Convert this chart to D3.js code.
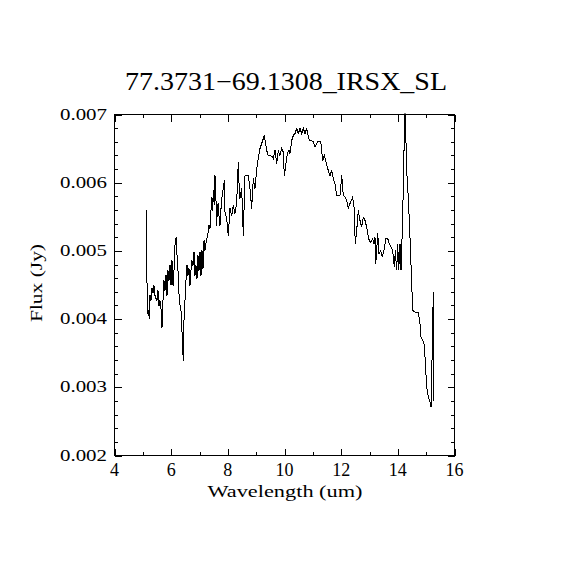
<!DOCTYPE html>
<html><head><meta charset="utf-8">
<script src="https://cdn.jsdelivr.net/npm/d3@7"></script>
<style>body{margin:0;background:#fff} svg{display:block}</style>
</head><body>
<svg id="c" width="570" height="570"></svg>
<script>
const wavelength = [5.122,5.129,5.136,5.154,5.165,5.189,5.228,5.253,5.288,5.324,5.359,5.394,5.429,5.465,5.500,5.535,5.571,5.606,5.641,5.676,
5.712,5.747,5.782,5.818,5.853,5.888,5.924,5.959,5.994,6.029,6.065,6.100,6.135,6.171,6.206,6.241,6.287,6.347,6.382,6.428,
6.453,6.488,6.524,6.559,6.594,6.629,6.665,6.700,6.735,6.771,6.806,6.841,6.876,6.912,6.947,6.982,7.018,7.053,7.088,7.124,
7.159,7.194,7.229,7.282,7.318,7.335,7.371,7.406,7.431,7.459,7.487,7.519,7.547,7.582,7.607,7.635,7.664,7.688,7.724,7.776,
7.840,7.875,7.900,7.960,8.016,8.076,8.136,8.193,8.253,8.313,8.369,8.405,8.429,8.489,8.546,8.571,8.606,8.722,8.782,8.842,
8.899,8.959,9.019,9.075,9.135,9.206,9.287,9.372,9.428,9.548,9.605,9.665,9.725,9.781,9.841,9.901,9.958,9.993,10.053,10.099,
10.159,10.194,10.254,10.311,10.371,10.431,10.487,10.547,10.607,10.664,10.724,10.784,10.875,11.016,11.076,11.136,11.193,11.278,11.313,11.348,
11.405,11.465,11.546,11.606,11.666,11.722,11.782,11.843,11.959,12.019,12.075,12.135,12.195,12.252,12.312,12.407,12.453,12.499,12.548,12.605,
12.665,12.725,12.781,12.841,12.901,12.958,12.993,13.042,13.113,13.159,13.194,13.219,13.254,13.290,13.335,13.395,13.452,13.512,13.582,13.642,
13.699,13.759,13.819,13.875,13.911,13.960,13.995,14.031,14.077,14.112,14.158,14.207,14.228,14.253,14.278,14.313,14.369,14.429,14.489,14.525,
14.606,14.722,14.782,14.818,14.878,14.924,14.959,15.019,15.075,15.135,15.171,15.206,15.231,15.252,15.276];
const flux = [0.005607,0.005006,0.004713,0.004419,0.004082,0.004126,0.004009,0.004346,0.004273,0.004449,0.004390,0.004493,0.004346,0.004302,0.004273,0.004419,0.004199,0.004273,0.004155,0.003877,
0.004273,0.004566,0.004419,0.004639,0.004346,0.004713,0.004566,0.004786,0.004493,0.004859,0.004493,0.004713,0.005079,0.005196,0.004933,0.004713,0.004273,0.004126,0.003818,0.003393,
0.003979,0.004273,0.004566,0.004786,0.004639,0.004742,0.004493,0.004713,0.004859,0.004786,0.004977,0.004639,0.004786,0.004595,0.004933,0.004713,0.004977,0.004639,0.005006,0.004742,
0.005152,0.005006,0.005108,0.005226,0.005299,0.005372,0.005328,0.005592,0.005783,0.005592,0.005886,0.005666,0.006106,0.005739,0.005372,0.005666,0.005695,0.005519,0.005372,0.005739,
0.005915,0.006032,0.005567,0.005475,0.005226,0.005622,0.005519,0.005666,0.005548,0.005714,0.006301,0.005886,0.005768,0.005915,0.005226,0.005592,0.006106,0.006106,0.005915,0.005622,
0.006062,0.005915,0.006208,0.006355,0.006501,0.006589,0.006692,0.006472,0.006399,0.006389,0.006355,0.006472,0.006282,0.006472,0.006399,0.006501,0.006447,0.006106,0.006282,0.006428,
0.006472,0.006428,0.006619,0.006692,0.006721,0.006795,0.006721,0.006795,0.006721,0.006795,0.006721,0.006795,0.006619,0.006608,0.006521,0.006575,0.006608,0.006608,0.006472,0.006326,
0.006399,0.006301,0.006179,0.006106,0.006179,0.006062,0.005988,0.005812,0.005812,0.006106,0.005812,0.005787,0.005739,0.005622,0.005695,0.005787,0.005641,0.005104,0.005299,0.005592,
0.005446,0.005347,0.005494,0.005446,0.005347,0.005201,0.005152,0.005128,0.005182,0.005104,0.005201,0.004811,0.005006,0.005255,0.004962,0.005006,0.004908,0.005006,0.005182,0.005182,
0.005104,0.005054,0.005006,0.004761,0.005006,0.004713,0.005104,0.004713,0.005104,0.004713,0.005299,0.006179,0.006721,0.007020,0.006765,0.006179,0.005787,0.005201,0.004518,0.004126,
0.004101,0.004101,0.003931,0.003735,0.003686,0.003638,0.003441,0.003001,0.002855,0.002781,0.002708,0.003393,0.003931,0.004394,0.002806];

const xTickValues = [4, 6, 8, 10, 12, 14, 16];
const xTickLabels = ["4", "6", "8", "10", "12", "14", "16"];
const xMinorValues = [5, 7, 9, 11, 13, 15];
const yTickValues = [0.002, 0.003, 0.004, 0.005, 0.006, 0.007];
const yTickLabels = ["0.002", "0.003", "0.004", "0.005", "0.006", "0.007"];
const yMinorValues = [0.0022,0.0024,0.0026,0.0028,0.0032,0.0034,0.0036,0.0038,0.0042,0.0044,0.0046,0.0048,
  0.0052,0.0054,0.0056,0.0058,0.0062,0.0064,0.0066,0.0068];
const titleText = "77.3731\u221269.1308_IRSX_SL";
const xTitle = "Wavelength (um)";
const yTitle = "Flux (Jy)";

const svg = d3.select("#c");
const FONT = "Liberation Serif";
const L = 114.5, R = 454.5, T = 114.5, B = 455.5;
const x = d3.scaleLinear().domain([4, 16]).range([L, R]);
const y = d3.scaleLinear().domain([0.002, 0.007]).range([B, T]);

svg.append("rect").attr("width", 570).attr("height", 570).attr("fill", "#fff");

svg.append("clipPath").attr("id", "clip").append("rect")
  .attr("x", L).attr("y", T - 1).attr("width", R - L).attr("height", B - T + 1);

const pts = wavelength.map((w, i) => [w, flux[i]]);
svg.append("path")
  .attr("clip-path", "url(#clip)")
  .attr("d", d3.line().x(d => x(d[0])).y(d => y(d[1]))(pts))
  .attr("fill", "none").attr("stroke", "#000").attr("stroke-width", 1)
  .attr("shape-rendering", "crispEdges");

function styleAxis(g) { g.select(".domain").remove(); g.selectAll("text").remove(); g.selectAll("line").attr("stroke", "#000").attr("shape-rendering", "crispEdges"); }
const MAJ = 7, MIN = 3.5;
svg.append("g").attr("transform", `translate(0,${B})`).call(d3.axisBottom(x).tickValues(xTickValues).tickSize(-MAJ)).call(styleAxis);
svg.append("g").attr("transform", `translate(0,${B})`).call(d3.axisBottom(x).tickValues(xMinorValues).tickSize(-MIN)).call(styleAxis);
svg.append("g").attr("transform", `translate(0,${T})`).call(d3.axisTop(x).tickValues(xTickValues).tickSize(-MAJ)).call(styleAxis);
svg.append("g").attr("transform", `translate(0,${T})`).call(d3.axisTop(x).tickValues(xMinorValues).tickSize(-MIN)).call(styleAxis);
svg.append("g").attr("transform", `translate(${L},0)`).call(d3.axisLeft(y).tickValues(yTickValues).tickSize(-MAJ)).call(styleAxis);
svg.append("g").attr("transform", `translate(${L},0)`).call(d3.axisLeft(y).tickValues(yMinorValues).tickSize(-MIN)).call(styleAxis);
svg.append("g").attr("transform", `translate(${R},0)`).call(d3.axisRight(y).tickValues(yTickValues).tickSize(-MAJ)).call(styleAxis);
svg.append("g").attr("transform", `translate(${R},0)`).call(d3.axisRight(y).tickValues(yMinorValues).tickSize(-MIN)).call(styleAxis);

svg.append("rect").attr("x", L).attr("y", T).attr("width", R - L).attr("height", B - T)
  .attr("fill", "none").attr("stroke", "#000").attr("stroke-width", 1).attr("shape-rendering", "crispEdges");

svg.append("g").selectAll("text").data(xTickValues).join("text")
  .attr("x", d => x(d)).attr("y", 476)
  .attr("text-anchor", "middle").attr("font-family", FONT).attr("font-size", 18).attr("fill", "#000")
  .text((d, i) => xTickLabels[i]);
svg.append("g").selectAll("text").data(yTickValues).join("text")
  .attr("x", 107).attr("y", d => y(d) + 5)
  .attr("text-anchor", "end").attr("font-family", FONT).attr("font-size", 16).attr("fill", "#000")
  .attr("textLength", 47).attr("lengthAdjust", "spacingAndGlyphs")
  .text((d, i) => yTickLabels[i]);

svg.append("text").attr("x", 286).attr("y", 90).attr("text-anchor", "middle")
  .attr("font-family", FONT).attr("font-size", 25).attr("fill", "#000")
  .attr("textLength", 322).attr("lengthAdjust", "spacingAndGlyphs").text(titleText);
svg.append("text").attr("x", 285).attr("y", 497).attr("text-anchor", "middle")
  .attr("font-family", FONT).attr("font-size", 17).attr("fill", "#000")
  .attr("textLength", 155).attr("lengthAdjust", "spacingAndGlyphs").text(xTitle);
svg.append("text").attr("transform", "translate(42,283) rotate(-90)").attr("text-anchor", "middle")
  .attr("font-family", FONT).attr("font-size", 17).attr("fill", "#000")
  .attr("textLength", 78).attr("lengthAdjust", "spacingAndGlyphs").text(yTitle);
</script>
</body></html>
